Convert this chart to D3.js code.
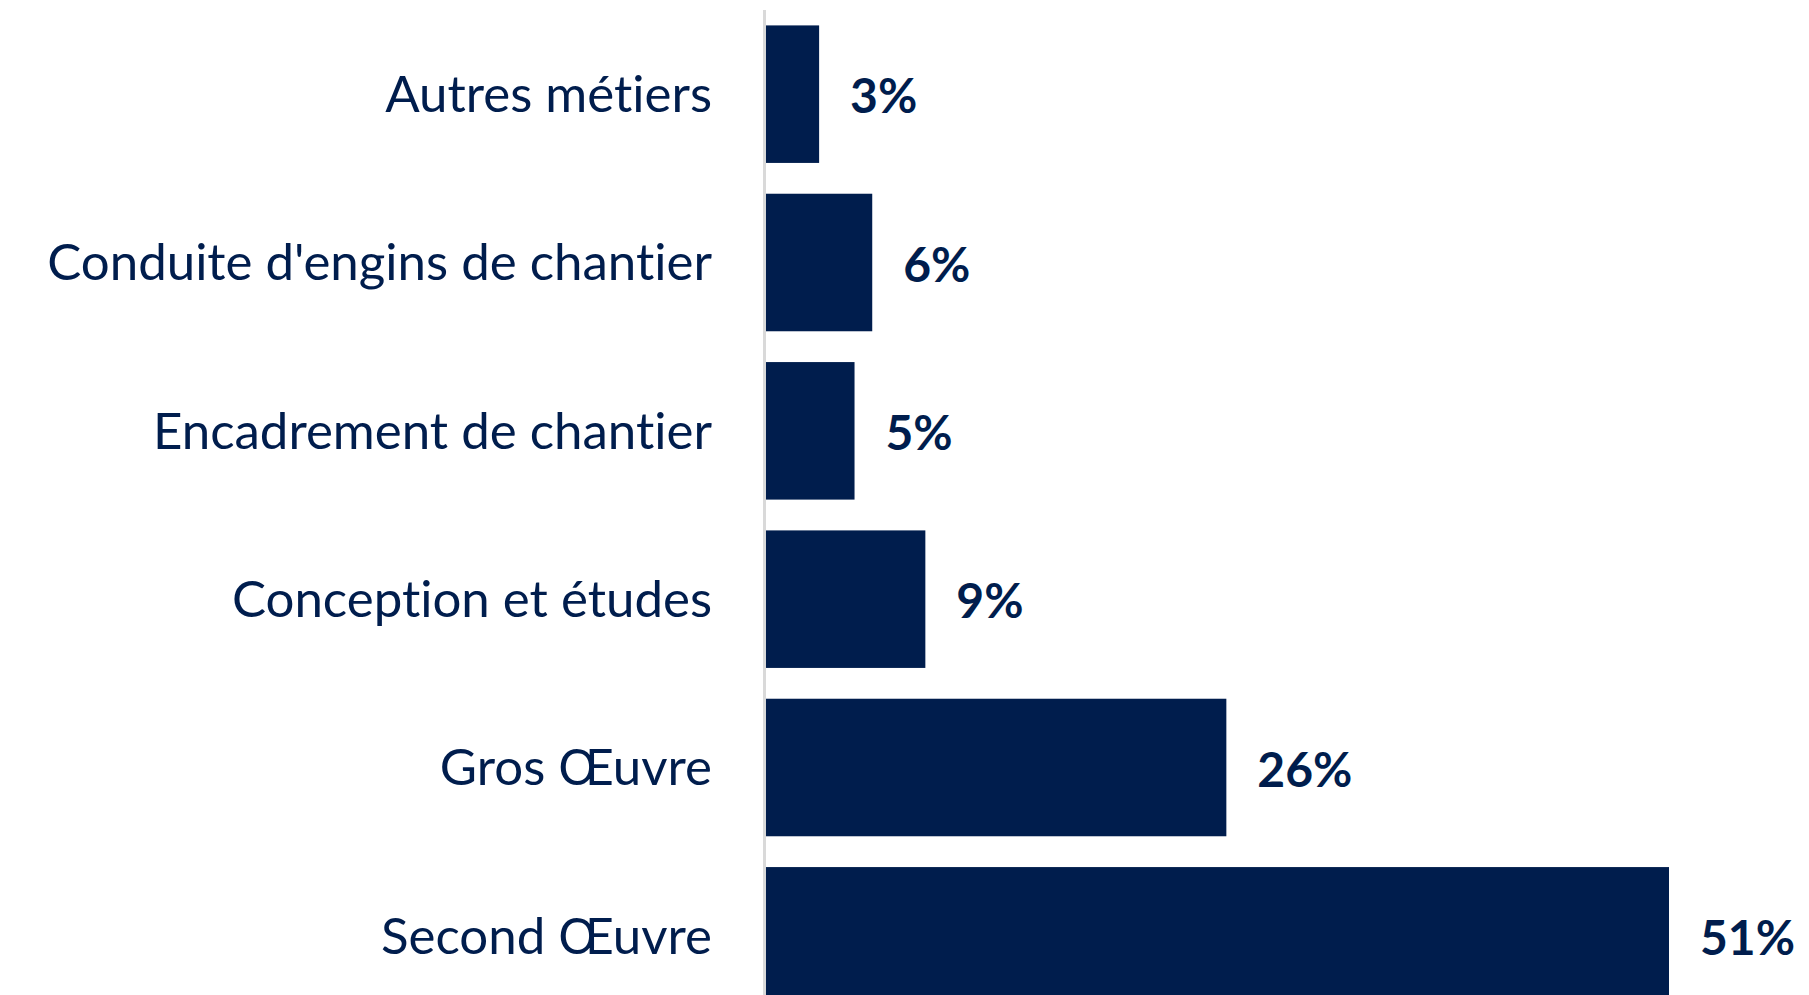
<!DOCTYPE html>
<html>
<head>
<meta charset="utf-8">
<script src="https://cdn.jsdelivr.net/npm/d3@7"></script>
<style>
  html, body { margin: 0; padding: 0; background: #fff; }
  svg { display: block; overflow: hidden; }
  text { font-variant-ligatures: none; font-feature-settings: "liga" 0; }
</style>
</head>
<body>
<div id="chart"></div>
<script>
(() => {
const width = 1809, height = 995;

// data (top to bottom)
const categories = ["Autres métiers", "Conduite d'engins de chantier", "Encadrement de chantier",
                    "Conception et études", "Gros Œuvre", "Second Œuvre"];
const shares = [3, 6, 5, 9, 26, 51];

const navy = "#001d4d";
const margin = {top: 10, left: 766};
const plotHeight = 1010;   // last bar runs past the bottom edge, like the source

const svg = d3.select("#chart").append("svg")
    .attr("width", width).attr("height", height);

const y = d3.scaleBand()
    .domain(categories)
    .range([margin.top, margin.top + plotHeight])
    .paddingInner(0.183)
    .paddingOuter(0.0915);

const x = d3.scaleLinear()
    .domain([0, 51])
    .range([margin.left, margin.left + 903]);

// bars
svg.selectAll("rect.bar")
  .data(shares)
  .join("rect")
    .attr("class", "bar")
    .attr("x", x(0))
    .attr("y", (d, i) => y(categories[i]))
    .attr("width", d => x(d) - x(0))
    .attr("height", y.bandwidth())
    .attr("fill", navy);

// vertical axis line
svg.append("line")
    .attr("x1", x(0) - 1.5).attr("x2", x(0) - 1.5)
    .attr("y1", margin.top).attr("y2", margin.top + plotHeight)
    .attr("stroke", "#d9d9d9")
    .attr("stroke-width", 3);

// category labels
svg.selectAll("text.cat")
  .data(categories)
  .join("text")
    .attr("class", "cat")
    .attr("x", 712)
    .attr("y", d => y(d) + y.bandwidth() / 2)
    .attr("dy", "0.35em")
    .attr("text-anchor", "end")
    .attr("font-family", "Lato, 'Open Sans', sans-serif")
    .attr("font-size", 51)
    .attr("fill", navy)
    .text(d => d);

// value labels
svg.selectAll("text.val")
  .data(shares)
  .join("text")
    .attr("class", "val")
    .attr("x", d => x(d) + 31)
    .attr("y", (d, i) => y(categories[i]) + y.bandwidth() / 2)
    .attr("dy", "0.4em")
    .attr("font-family", "Lato, 'Open Sans', sans-serif")
    .attr("font-weight", "bold")
    .attr("font-size", 48)
    .attr("fill", navy)
    .text(d => d + "%");
})();
</script>
</body>
</html>
